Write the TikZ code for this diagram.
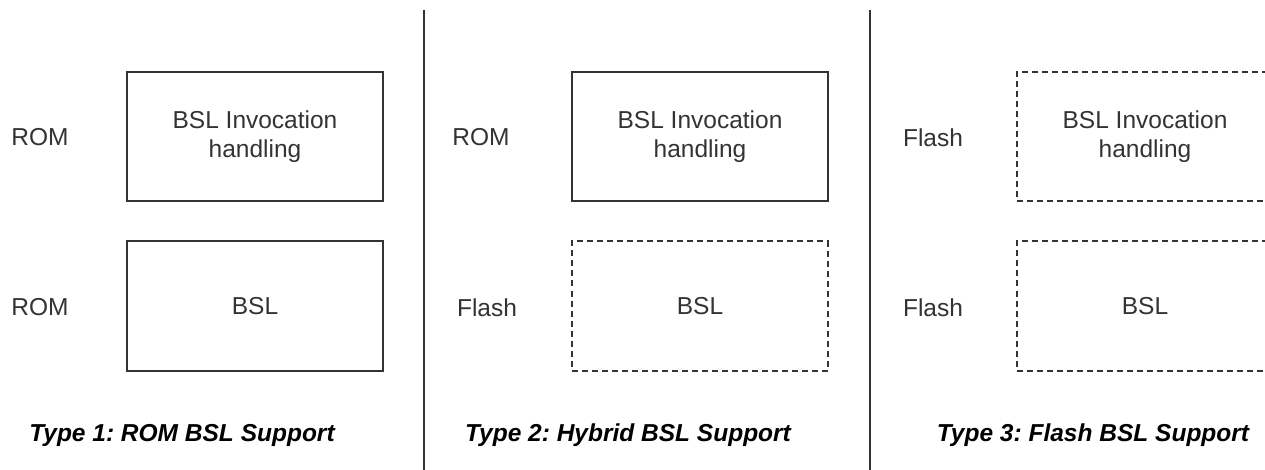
\documentclass[tikz,border=0pt]{standalone}
\usepackage{fontspec}
\setmainfont{Liberation Sans}
\frenchspacing
\begin{document}
\begin{tikzpicture}[x=1pt,y=-1pt,
  every node/.style={font=\fontsize{24.5}{28.6}\selectfont, text=black!80},
  memblock/.style={draw=black!80, line width=2pt, minimum width=256pt, minimum height=129pt, align=center, inner sep=0pt},
  flashblock/.style={memblock, dash pattern=on 6pt off 4pt},
  kind/.style={anchor=center},
  caption/.style={font=\fontsize{24.5}{28.6}\selectfont\bfseries\itshape, text=black},
  divider/.style={draw=black!80, line width=2pt}]
  \useasboundingbox (0,0) rectangle (1265,470);
  \clip (0,0) rectangle (1265,470);

  % column separators
  \coordinate (d1top) at (424,10);  \coordinate (d1bot) at (424,470);
  \coordinate (d2top) at (870,10);  \coordinate (d2bot) at (870,470);
  \draw[divider] (d1top) -- (d1bot);
  \draw[divider] (d2top) -- (d2bot);

  % Type 1: everything in ROM
  \node[memblock] (t1inv) at (255,136.5) {BSL Invocation\\handling};
  \node[memblock] (t1bsl) at (255,306) {BSL};
  \node[kind] (t1invmem) at (40,137.5) {ROM};
  \node[kind] (t1bslmem) at (40,307.5) {ROM};
  \node[caption] (t1cap) at (182,435) {Type 1: ROM BSL Support};

  % Type 2: invocation in ROM, BSL in flash
  \node[memblock] (t2inv) at (700,136.5) {BSL Invocation\\handling};
  \node[flashblock] (t2bsl) at (700,306) {BSL};
  \node[kind] (t2invmem) at (481,137.5) {ROM};
  \node[kind] (t2bslmem) at (487,307.5) {Flash};
  \node[caption] (t2cap) at (628,435) {Type 2: Hybrid BSL Support};

  % Type 3: everything in flash
  \node[flashblock] (t3inv) at (1145,136.5) {BSL Invocation\\handling};
  \node[flashblock] (t3bsl) at (1145,306) {BSL};
  \node[kind] (t3invmem) at (933,137.5) {Flash};
  \node[kind] (t3bslmem) at (933,307.5) {Flash};
  \node[caption] (t3cap) at (1093,435) {Type 3: Flash BSL Support};
\end{tikzpicture}
\end{document}
